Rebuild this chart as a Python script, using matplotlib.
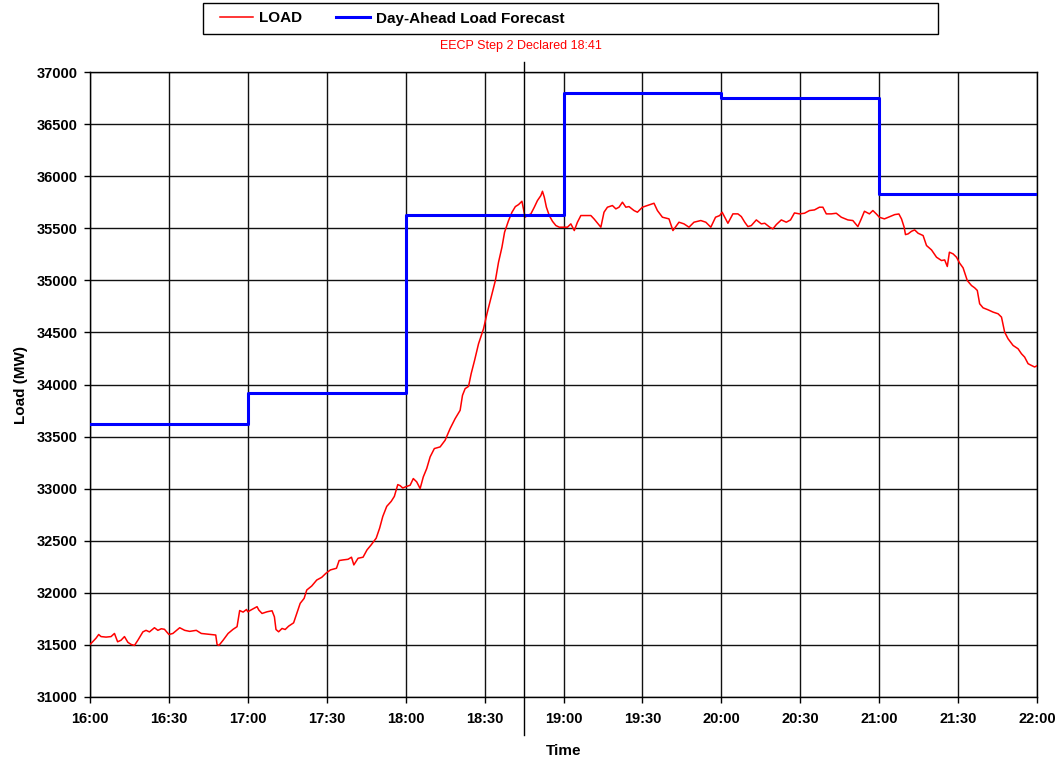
import matplotlib
matplotlib.use('Agg')
import matplotlib.pyplot as plt
from matplotlib.patches import Rectangle

FONT = ['Liberation Sans', 'DejaVu Sans']

# minutes after 16:00, load in MW
load_minutes = [
    0, 1.0, 2.3, 3.3, 4.2, 6.1, 8.0, 9.3, 10.5, 11.8, 13.1, 14.4, 15.6, 16.9, 18.2,
    20.1, 21.3, 22.6, 24.5, 25.8, 27.1, 28.3, 30.0, 31.5, 34.1, 36.0, 37.9, 40.4,
    42.3, 44.2, 46.1, 47.8, 48.3, 49.0, 50.6, 52.5, 54.4, 55.9, 56.9, 58.2,
    59.5, 60.0, 61.6, 63.5, 64.2, 65.4, 67.3, 69.2, 70.1, 70.7, 71.7, 73.0, 74.2,
    75.5, 77.4, 78.6, 79.9, 81.4, 82.4, 84.3, 86.2, 88.1, 89.7, 91.4, 93.7, 94.7,
    96.2, 98.1, 99.4, 100.3, 101.9, 103.8, 105.3, 106.9, 108.8, 110.1, 111.3,
    112.8, 114.5, 115.7, 117.0, 117.9, 118.9,
    120, 121.7, 122.9, 124.2, 125.5, 126.7, 128.0, 129.3, 130.9, 133.1, 135.0,
    136.9, 138.8, 140.7, 141.6, 142.6, 143.9, 144.9, 146.2, 147.7, 149.6, 150.9,
    152.5, 154.1, 155.3, 156.6, 157.6, 159.1, 160.4, 161.7, 162.9, 164.2,
    165.4, 166.3, 167.6, 168.9, 170.1, 171.4, 172.0, 172.7, 173.5, 174.6, 175.8,
    177.1, 178.4, 180, 181.5, 182.8, 184.1, 185.3, 186.6, 188.5, 190.4, 191.6,
    194.2, 195.4, 196.7, 198.6, 199.9, 201.1, 202.4, 203.7, 204.9, 206.8, 208.1,
    210, 211.9, 214.4, 215.7, 217.6, 220.1, 221.6, 223.9, 225.8, 227.7, 229.6,
    232.2, 234.1, 236.0, 237.8,
    239.4, 240.3, 241.3, 242.5, 244.4, 246.3, 247.6, 248.9, 250.1, 251.4, 253.3,
    255.2, 256.5, 258.4, 259.6, 260.9, 262.8, 264.7, 266.3, 267.8, 269.7, 271.6,
    273.5, 275.4, 277.3, 278.6, 279.9, 281.8, 283.7, 285.6, 288.1, 290, 291.9,
    293.2, 294.4, 296.3, 297.6, 298.9,
    300.1, 302, 304.1, 305.9, 307.5, 308.5, 309.5, 310.0, 311.0, 312.3, 313.5,
    314.8, 316.7, 318.0, 319.9, 321.8, 323.7, 324.9, 325.9, 326.7, 328.1, 329.4,
    330.6, 331.9, 333.5, 335.1, 336.3, 337.3, 338.2, 339.5, 341.4, 343.3, 345.2,
    346.5, 347.7, 349.0, 350.9, 352.8, 354.1, 355.3, 356.6, 357.8, 359.1, 360,
]
load_mw = [
    31505, 31530, 31565, 31600, 31580, 31575, 31580, 31610, 31530, 31545, 31580,
    31525, 31505, 31495, 31545, 31625, 31640, 31625, 31665, 31640, 31655, 31650,
    31600, 31610, 31665, 31640, 31630, 31640, 31610, 31605, 31600, 31595, 31505,
    31495, 31545, 31610, 31650, 31675, 31830, 31815,
    31840, 31818, 31841, 31867, 31834, 31802, 31818, 31828, 31770, 31648, 31626,
    31658, 31648, 31680, 31712, 31802, 31899, 31947, 32027, 32066, 32123, 32149,
    32188, 32220, 32236, 32310, 32316, 32322, 32342, 32268, 32332, 32342, 32412,
    32461, 32525, 32621, 32733, 32830, 32878, 32926, 33039, 33029, 33006,
    33018, 33033, 33097, 33065, 33001, 33113, 33193, 33305, 33385, 33401, 33465,
    33577, 33672, 33752, 33896, 33960, 33982, 34104, 34232, 34391, 34535, 34679,
    34839, 34998, 35174, 35318, 35462, 35573, 35653, 35708, 35727, 35759,
    35606, 35622, 35638, 35702, 35766, 35814, 35855, 35798, 35702, 35622, 35567,
    35526, 35510, 35510, 35510, 35542, 35478, 35558, 35622, 35622, 35622, 35590,
    35510, 35654, 35702, 35718, 35686, 35702, 35750, 35702, 35708, 35670, 35654,
    35702, 35718, 35740, 35670, 35606, 35590, 35478, 35558, 35542, 35510, 35558,
    35574, 35558, 35510, 35606,
    35622, 35654, 35606, 35548, 35638, 35638, 35612, 35558, 35516, 35526, 35580,
    35542, 35548, 35510, 35494, 35535, 35580, 35558, 35580, 35647, 35638, 35644,
    35670, 35676, 35702, 35702, 35638, 35638, 35644, 35606, 35580, 35574, 35516,
    35590, 35663, 35638, 35670, 35638,
    35605, 35590, 35612, 35631, 35637, 35589, 35510, 35439, 35446, 35471, 35484,
    35452, 35430, 35334, 35292, 35222, 35190, 35196, 35133, 35270, 35254, 35222,
    35165, 35120, 34998, 34950, 34928, 34903, 34775, 34736, 34717, 34695, 34679,
    34647, 34503, 34439, 34375, 34343, 34295, 34263, 34200, 34184, 34168, 34180,
]

# day-ahead forecast, hourly blocks starting at 16:00
forecast_minutes = [0, 60, 120, 180, 240, 300, 360]
forecast_mw = [33620, 33920, 35630, 36800, 36750, 35830, 35830]

tick_minutes = list(range(0, 361, 30))
tick_labels = ['16:00', '16:30', '17:00', '17:30', '18:00', '18:30', '19:00',
               '19:30', '20:00', '20:30', '21:00', '21:30', '22:00']
y_ticks = list(range(31000, 37001, 500))

event_minute = 165
event_text = 'EECP Step 2 Declared 18:41'

fig = plt.figure(figsize=(10.59, 7.61), dpi=100)
ax = fig.add_axes([90 / 1059, 64 / 761, 947 / 1059, 625 / 761])

line_load, = ax.plot(load_minutes, load_mw, color='#ff0000', lw=1.1, label='LOAD', zorder=3)
line_fc, = ax.plot(forecast_minutes, forecast_mw, color='#0000ff', lw=2.2,
                   drawstyle='steps-post', label='Day-Ahead Load Forecast', zorder=4)

ax.set_xlim(0, 360)
ax.set_ylim(31000, 37000)
ax.set_xticks(tick_minutes)
ax.set_xticklabels(tick_labels)
ax.set_yticks(y_ticks)
ax.grid(True, color='#111111', lw=1.0, zorder=1)
ax.set_axisbelow(True)
for s in ax.spines.values():
    s.set_color('black')
    s.set_linewidth(1.0)
ax.tick_params(direction='out', length=4, width=1, color='black')
ax.tick_params(axis='x', pad=7)
ax.tick_params(axis='y', pad=5)
for lab in ax.get_xticklabels() + ax.get_yticklabels():
    lab.set_fontfamily(FONT)
    lab.set_fontweight('bold')
    lab.set_fontsize(10.5)
ax.set_xlabel('Time', family=FONT, fontweight='bold', fontsize=11, labelpad=13)
ax.set_ylabel('Load (MW)', family=FONT, fontweight='bold', fontsize=11, labelpad=6)

# event marker, runs past the plot edges
ax.axvline(event_minute, ymin=-0.061, ymax=1.016, color='black', lw=1.0,
           clip_on=False, zorder=5)
ax.text(event_minute - 1, 37000 + 250, event_text, color='#ff0000', ha='center',
        va='center', family=FONT, fontsize=9)

# legend box across the top
fig.add_artist(Rectangle((203 / 1059, 1 - 34 / 761), 735 / 1059, 31 / 761,
                         transform=fig.transFigure, facecolor='white',
                         edgecolor='black', lw=1.0))
leg = fig.legend(handles=[line_load, line_fc], loc='center left',
                 bbox_to_anchor=(206 / 1059, 1 - 18.5 / 761), ncol=2,
                 frameon=False, handlelength=2.2, handletextpad=0.4,
                 columnspacing=2.2, prop={'family': FONT, 'weight': 'bold', 'size': 11})

fig.savefig('out.png', dpi=100, facecolor='white')
